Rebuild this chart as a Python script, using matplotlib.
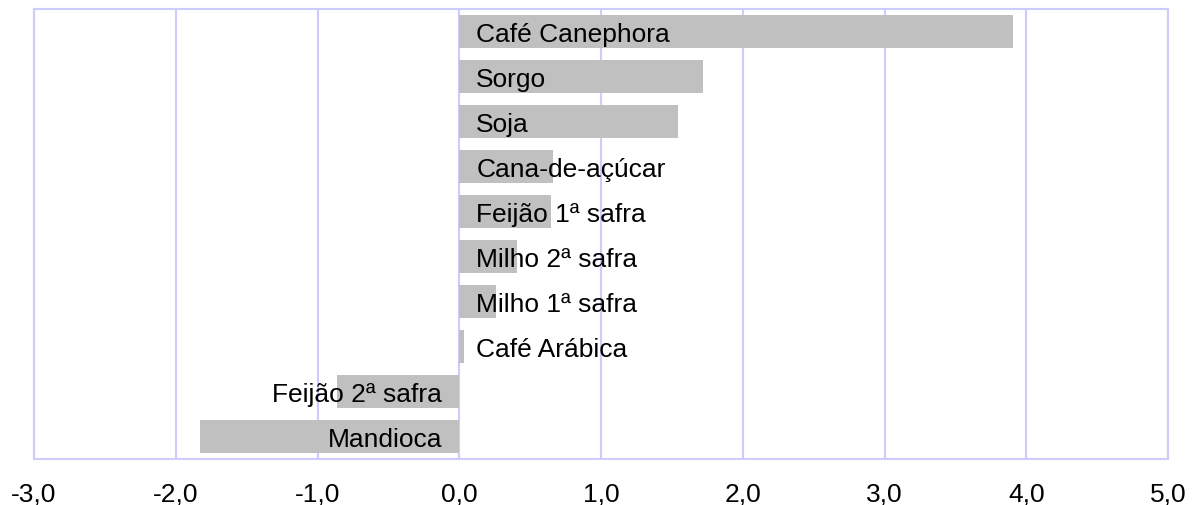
import matplotlib
matplotlib.use("Agg")
import matplotlib.pyplot as plt
from matplotlib.ticker import FuncFormatter

plt.rcParams['font.family'] = ['Liberation Sans', 'DejaVu Sans']

# culturas de baixo para cima
culturas = ["Mandioca", "Feijão 2ª safra", "Café Arábica", "Milho 1ª safra",
            "Milho 2ª safra", "Feijão 1ª safra", "Cana-de-açúcar", "Soja",
            "Sorgo", "Café Canephora"]
valores = [-1.83, -0.86, 0.03, 0.26, 0.41, 0.65, 0.66, 1.54, 1.72, 3.91]
xticks = [-3, -2, -1, 0, 1, 2, 3, 4, 5]

grade = "#ccccff"

fig = plt.figure(figsize=(11.92, 5.06), dpi=100)
ax = fig.add_axes([34 / 1192, 1 - 460 / 506, 1134 / 1192, 450 / 506])

y = range(len(culturas))
ax.barh(y, valores, height=0.75, color="#c0c0c0", zorder=2)

for i, (nome, v) in enumerate(zip(culturas, valores)):
    if v >= 0:
        ax.text(0.12, i, nome, ha="left", va="center_baseline", fontsize=19, zorder=3)
    else:
        ax.text(-0.12, i, nome, ha="right", va="center_baseline", fontsize=19, zorder=3)

ax.set_xlim(-3, 5)
ax.set_ylim(-0.5, len(culturas) - 0.5)
ax.set_xticks(xticks)
ax.xaxis.set_major_formatter(FuncFormatter(lambda v, p: f"{v:.1f}".replace(".", ",")))
ax.set_yticks([])
ax.tick_params(axis="x", length=0, pad=16, labelsize=19)
ax.grid(axis="x", color=grade, linewidth=1.5, zorder=1)
for s in ax.spines.values():
    s.set_color(grade)
    s.set_linewidth(1.5)

fig.savefig("out.png", dpi=100)
